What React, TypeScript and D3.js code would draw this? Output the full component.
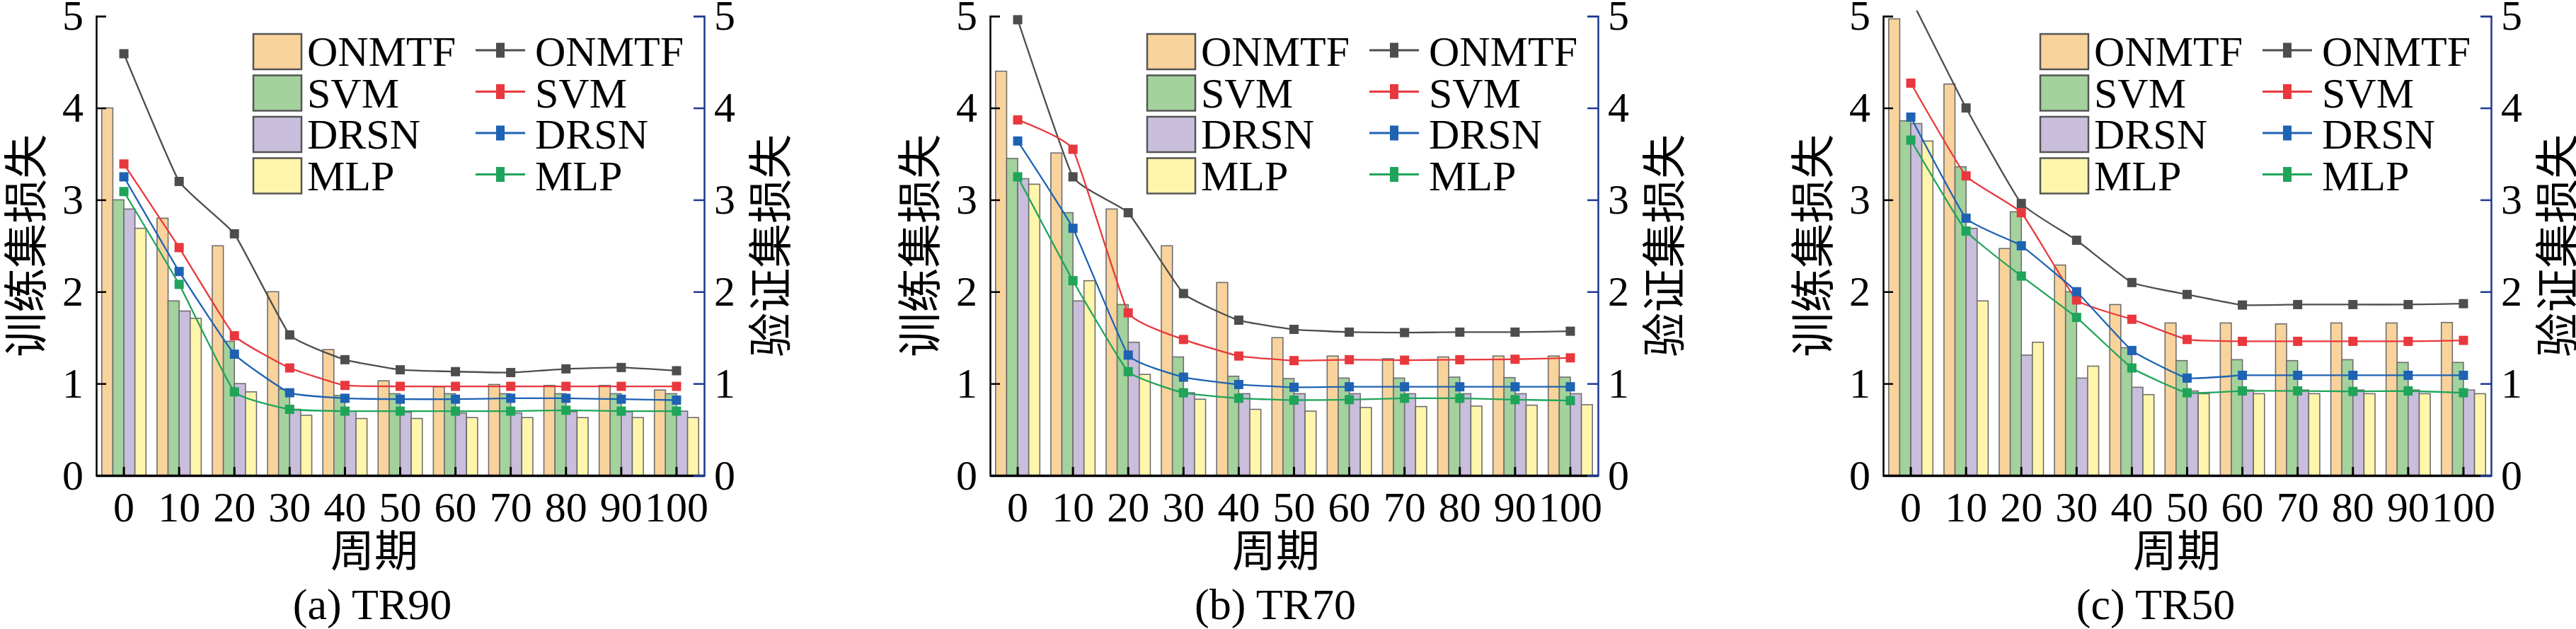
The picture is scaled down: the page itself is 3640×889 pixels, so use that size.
import React, { useEffect, useRef } from 'react';
import * as d3 from 'd3';

// epochs on the x axis and the four compared methods
const epochs = [0, 10, 20, 30, 40, 50, 60, 70, 80, 90, 100];
const methods = ['ONMTF', 'SVM', 'DRSN', 'MLP'];
const yTicks = [0, 1, 2, 3, 4, 5];

// training loss (bars), rows in the order of `methods`
const trainTR90 = [
  [4.0, 2.8, 2.5, 2.0, 1.37, 1.03, 0.965, 0.99, 0.98, 0.98, 0.93],
  [3.0, 1.9, 1.46, 0.94, 0.87, 0.89, 0.89, 0.89, 0.89, 0.89, 0.89],
  [2.9, 1.79, 1.0, 0.72, 0.7, 0.69, 0.68, 0.68, 0.695, 0.695, 0.7],
  [2.69, 1.71, 0.91, 0.655, 0.62, 0.62, 0.63, 0.63, 0.63, 0.63, 0.63],
];
const trainTR70 = [
  [4.4, 3.51, 2.9, 2.5, 2.1, 1.5, 1.3, 1.27, 1.29, 1.3, 1.3],
  [3.45, 2.86, 1.86, 1.29, 1.08, 1.055, 1.06, 1.06, 1.07, 1.065, 1.07],
  [3.23, 1.9, 1.45, 0.9, 0.89, 0.89, 0.89, 0.89, 0.89, 0.89, 0.89],
  [3.17, 2.12, 1.1, 0.83, 0.72, 0.7, 0.74, 0.75, 0.755, 0.765, 0.77],
];
const trainTR50 = [
  [4.97, 4.26, 2.47, 2.29, 1.86, 1.66, 1.66, 1.65, 1.66, 1.66, 1.665],
  [3.86, 3.36, 2.87, 2.0, 1.39, 1.25, 1.26, 1.25, 1.26, 1.23, 1.23],
  [3.83, 2.69, 1.31, 1.06, 0.96, 0.92, 0.93, 0.93, 0.93, 0.93, 0.93],
  [3.64, 1.9, 1.45, 1.19, 0.88, 0.89, 0.89, 0.89, 0.89, 0.89, 0.89],
];

// validation loss (lines), rows in the order of `methods`
const valTR90 = [
  [4.59, 3.2, 2.63, 1.53, 1.26, 1.15, 1.13, 1.12, 1.16, 1.175, 1.14],
  [3.39, 2.48, 1.52, 1.17, 0.98, 0.97, 0.97, 0.97, 0.97, 0.97, 0.97],
  [3.25, 2.22, 1.32, 0.9, 0.84, 0.83, 0.83, 0.84, 0.84, 0.83, 0.82],
  [3.09, 2.08, 0.91, 0.72, 0.7, 0.7, 0.7, 0.7, 0.71, 0.7, 0.7],
];
const valTR70 = [
  [4.96, 3.25, 2.86, 1.98, 1.69, 1.59, 1.56, 1.555, 1.56, 1.56, 1.57],
  [3.87, 3.55, 1.77, 1.48, 1.3, 1.25, 1.26, 1.255, 1.26, 1.265, 1.28],
  [3.64, 2.69, 1.31, 1.07, 0.99, 0.96, 0.965, 0.965, 0.965, 0.965, 0.965],
  [3.25, 2.12, 1.13, 0.9, 0.84, 0.82, 0.825, 0.84, 0.84, 0.825, 0.815],
];
const valTR50 = [
  [5.19, 4.0, 2.96, 2.56, 2.1, 1.97, 1.855, 1.86, 1.86, 1.86, 1.87],
  [4.27, 3.26, 2.86, 1.91, 1.7, 1.48, 1.46, 1.46, 1.46, 1.46, 1.47],
  [3.9, 2.8, 2.5, 2.0, 1.36, 1.06, 1.09, 1.09, 1.09, 1.09, 1.09],
  [3.65, 2.66, 2.17, 1.72, 1.17, 0.9, 0.92, 0.92, 0.915, 0.92, 0.9],
];

const barColors = ['#F9D39C', '#A3D29C', '#C9BEDC', '#FFF6AC'];
const lineColors = ['#4D4D4D', '#E8383D', '#1E62B3', '#1FA45A'];

const panels = [
  { id: 'a', title: '(a) TR90', train: trainTR90, val: valTR90, x0: 136, xLabelX: 529, titleX: 526 },
  { id: 'b', title: '(b) TR70', train: trainTR70, val: valTR70, x0: 1399, xLabelX: 1803, titleX: 1802 },
  { id: 'c', title: '(c) TR50', train: trainTR50, val: valTR50, x0: 2661, xLabelX: 3076, titleX: 3046 },
];

const serif = '"Liberation Serif", "Times New Roman", serif';
const cjk = '"Noto Sans CJK SC", sans-serif';

const App: React.FC = () => {
  const svgRef = useRef<SVGSVGElement>(null);

  useEffect(() => {
    if (!svgRef.current) return;
    const svg = d3.select(svgRef.current);
    svg.selectAll('*').remove();

    const top = 22.7;
    const bottom = 672;
    const w = 859;
    const y = d3.scaleLinear().domain([0, 5]).range([bottom, top]);
    const defs = svg.append('defs');

    panels.forEach(p => {
      const g = svg.append('g');
      const x = d3.scaleBand<number>().domain(epochs).range([p.x0, p.x0 + w]).paddingInner(0.2).paddingOuter(0.1);
      const xs = d3.scaleBand<string>().domain(methods).range([0, x.bandwidth()]);
      const cx = (e: number) => (x(e) as number) + x.bandwidth() / 2;

      defs.append('clipPath').attr('id', `clip-${p.id}`)
        .append('rect').attr('x', p.x0).attr('y', top - 8).attr('width', w).attr('height', bottom - top + 8);

      // bars, group by group
      epochs.forEach((e, j) => {
        g.append('g').selectAll('rect').data(methods).join('rect')
          .attr('x', m => (x(e) as number) + (xs(m) as number))
          .attr('y', (m, i) => y(p.train[i][j]))
          .attr('width', xs.bandwidth())
          .attr('height', (m, i) => bottom - y(p.train[i][j]))
          .attr('fill', (m, i) => barColors[i])
          .attr('stroke', '#6e6e6e')
          .attr('stroke-width', 1.6);
      });

      // x axis
      const xAxis = g.append('g').attr('transform', `translate(0,${bottom})`)
        .call(d3.axisBottom(x).tickSizeInner(-12).tickSizeOuter(0).tickPadding(22));
      xAxis.select('.domain').attr('stroke', '#000').attr('stroke-width', 3.5);
      xAxis.selectAll('.tick line').attr('stroke', '#000').attr('stroke-width', 3);
      xAxis.selectAll('text').attr('font-size', 60).attr('font-family', serif).attr('fill', '#000');

      // left axis
      const yAxis = g.append('g').attr('transform', `translate(${p.x0},0)`)
        .call(d3.axisLeft(y).tickValues(yTicks).tickSizeInner(-14).tickSizeOuter(-14).tickPadding(18).tickFormat(d3.format('d')));
      yAxis.select('.domain').attr('stroke', '#000').attr('stroke-width', 2.5);
      yAxis.selectAll('.tick line').attr('stroke', '#000').attr('stroke-width', 2.5);
      yAxis.selectAll('text').attr('font-size', 60).attr('font-family', serif).attr('fill', '#000');

      // right axis
      const y2Axis = g.append('g').attr('transform', `translate(${p.x0 + w},0)`)
        .call(d3.axisRight(y).tickValues(yTicks).tickSizeInner(-15).tickSizeOuter(-15).tickPadding(14).tickFormat(d3.format('d')));
      y2Axis.select('.domain').attr('stroke', '#1F3791').attr('stroke-width', 2.5);
      y2Axis.selectAll('.tick line').attr('stroke', '#1F3791').attr('stroke-width', 2.5);
      y2Axis.selectAll('text').attr('font-size', 60).attr('font-family', serif).attr('fill', '#000');

      // validation lines with square markers
      const line = d3.line<number>()
        .x((d, j) => cx(epochs[j]))
        .y(d => y(d))
        .curve(d3.curveCardinal.tension(0.65));
      const lg = g.append('g').attr('clip-path', `url(#clip-${p.id})`);
      methods.forEach((m, i) => {
        lg.append('path').datum(p.val[i]).attr('d', line)
          .attr('fill', 'none').attr('stroke', lineColors[i]).attr('stroke-width', 2.3);
        lg.append('g').selectAll('rect').data(p.val[i]).join('rect')
          .attr('x', (d, j) => cx(epochs[j]) - 6.5)
          .attr('y', d => y(d) - 6.5)
          .attr('width', 13)
          .attr('height', 13)
          .attr('fill', lineColors[i]);
      });

      // legends
      methods.forEach((m, i) => {
        const ty = 93 + i * 58.5;
        g.append('rect')
          .attr('x', p.x0 + 222).attr('y', 48 + i * 58.5).attr('width', 68).attr('height', 50)
          .attr('fill', barColors[i]).attr('stroke', '#555').attr('stroke-width', 2.5);
        g.append('text').attr('x', p.x0 + 298).attr('y', ty)
          .attr('font-size', 60).attr('font-family', serif).text(m);

        g.append('line')
          .attr('x1', p.x0 + 536).attr('x2', p.x0 + 606).attr('y1', ty - 22).attr('y2', ty - 22)
          .attr('stroke', lineColors[i]).attr('stroke-width', 3.2);
        g.append('rect')
          .attr('x', p.x0 + 565).attr('y', ty - 32.5).attr('width', 12).attr('height', 21)
          .attr('fill', lineColors[i]);
        g.append('text').attr('x', p.x0 + 620).attr('y', ty)
          .attr('font-size', 60).attr('font-family', serif).text(m);
      });

      // axis titles
      const midY = (top + bottom) / 2;
      g.append('text')
        .attr('transform', `translate(${p.x0 - 105},${midY}) rotate(-90)`)
        .attr('text-anchor', 'middle').attr('dominant-baseline', 'central')
        .attr('font-size', 63).attr('font-family', cjk).text('训练集损失');
      g.append('text')
        .attr('transform', `translate(${p.x0 + w + 88},${midY}) rotate(-90)`)
        .attr('text-anchor', 'middle').attr('dominant-baseline', 'central')
        .attr('font-size', 63).attr('font-family', cjk).text('验证集损失');
      g.append('text')
        .attr('x', p.xLabelX).attr('y', 774)
        .attr('text-anchor', 'middle').attr('dominant-baseline', 'central')
        .attr('font-size', 62).attr('font-family', cjk).text('周期');
      g.append('text')
        .attr('x', p.titleX).attr('y', 875)
        .attr('text-anchor', 'middle')
        .attr('font-size', 62).attr('font-family', serif).text(p.title);
    });
  }, []);

  return (
    <div style={{ position: 'absolute', left: 0, top: 0 }}>
      <style>{'body{margin:0}'}</style>
      <svg ref={svgRef} width={3640} height={889} style={{ display: 'block', background: '#fff' }} />
    </div>
  );
};

export default App;
